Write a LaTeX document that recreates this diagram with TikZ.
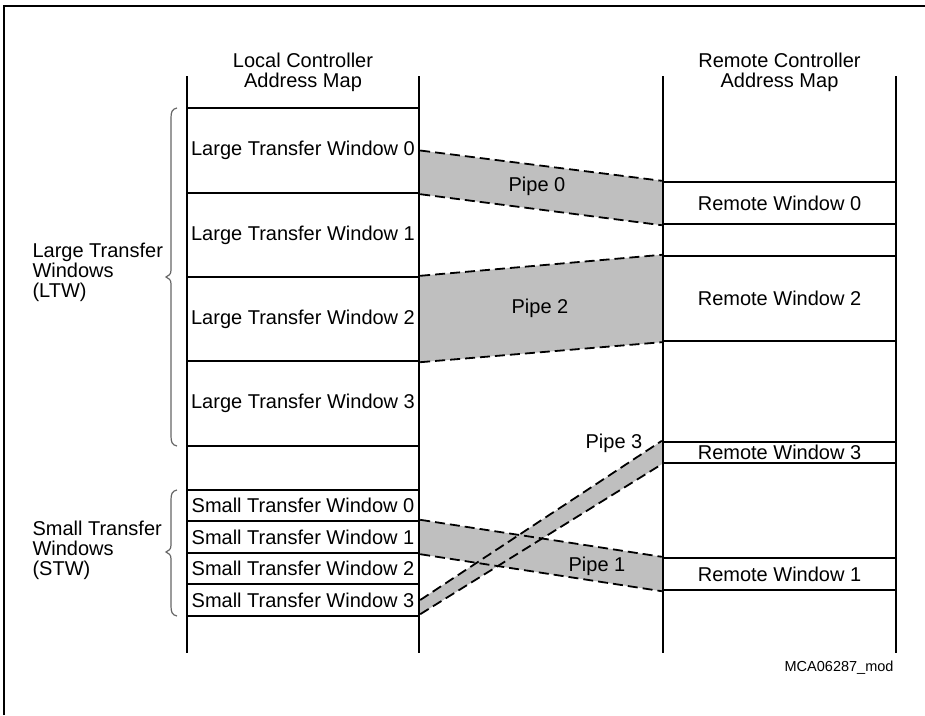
\documentclass[tikz,border=0pt]{standalone}
\usepackage{fontspec}
\setmainfont{Liberation Sans}
\usetikzlibrary{backgrounds,calc}
\begin{document}
\begin{tikzpicture}[x=1pt,y=-1pt,
  every node/.style={font=\fontsize{20}{20}\selectfont},
  win/.style={draw, line width=2.4pt, inner sep=0pt, minimum width=232pt},
  col/.style={line width=2.6pt},
  pipeedge/.style={line width=1.8pt, dash pattern=on 10pt off 5pt},
  pipefill/.style={fill=black!25, draw=none},
  brace/.style={draw=black!60, line width=1.2pt},
  lbl/.style={align=left, anchor=west}]
\useasboundingbox (0,0) rectangle (925,715);
\draw[line width=2pt] (4,715) -- (4,6) -- (925,6);
% headers
\node[align=center] (lhead) at (303,72) {Local Controller\\Address Map};
\node[align=center] (rhead) at (779.5,72) {Remote Controller\\Address Map};
% column lines
\coordinate (lt1) at (187,76); \coordinate (lb1) at (187,653);
\coordinate (lt2) at (419,76); \coordinate (lb2) at (419,653);
\coordinate (rt1) at (663,76); \coordinate (rb1) at (663,653);
\coordinate (rt2) at (896,76); \coordinate (rb2) at (896,653);
\draw[col] (lt1) -- (lb1); \draw[col] (lt2) -- (lb2);
\draw[col] (rt1) -- (rb1); \draw[col] (rt2) -- (rb2);
% local windows
\node[win, minimum height=85pt] (ltw0) at (303,150.5) {Large Transfer Window 0};
\node[win, minimum height=84pt] (ltw1) at (303,235) {Large Transfer Window 1};
\node[win, minimum height=84pt] (ltw2) at (303,319) {Large Transfer Window 2};
\node[win, minimum height=85pt] (ltw3) at (303,403.5) {Large Transfer Window 3};
\node[win, minimum height=31pt] (stw0) at (303,505.5) {Small Transfer Window 0};
\node[win, minimum height=32pt] (stw1) at (303,537) {Small Transfer Window 1};
\node[win, minimum height=31pt] (stw2) at (303,568.5) {Small Transfer Window 2};
\node[win, minimum height=32pt] (stw3) at (303,600) {Small Transfer Window 3};
% remote windows
\node[win, minimum width=233pt, minimum height=42pt] (rw0) at (779.5,203) {Remote Window 0};
\node[win, minimum width=233pt, minimum height=85pt] (rw2) at (779.5,298.5) {Remote Window 2};
\node[win, minimum width=233pt, minimum height=21pt] (rw3) at (779.5,452.5) {Remote Window 3};
\node[win, minimum width=233pt, minimum height=32pt] (rw1) at (779.5,574) {Remote Window 1};
% pipe end points
\coordinate (p3s) at ($(stw3.south east)+(0,-3)$);
% pipe fills
\begin{scope}[on background layer]
\fill[pipefill] (ltw0.east) -- (rw0.north west) -- (rw0.south west) -- (ltw0.south east) -- cycle;
\fill[pipefill] (ltw2.north east) -- (rw2.north west) -- (rw2.south west) -- (ltw2.south east) -- cycle;
\fill[pipefill] (stw1.north east) -- (rw1.north west) -- (rw1.south west) -- (stw1.south east) -- cycle;
\fill[pipefill] (stw3.east) -- (rw3.north west) -- (rw3.south west) -- (p3s) -- cycle;
\end{scope}
% pipe edges
\draw[pipeedge] (ltw0.east) -- (rw0.north west);
\draw[pipeedge] (ltw0.south east) -- (rw0.south west);
\draw[pipeedge] (ltw2.north east) -- (rw2.north west);
\draw[pipeedge] (ltw2.south east) -- (rw2.south west);
\draw[pipeedge] (stw1.north east) -- (rw1.north west);
\draw[pipeedge] (stw1.south east) -- (rw1.south west);
\draw[pipeedge] (stw3.east) -- (rw3.north west);
\draw[pipeedge] (p3s) -- (rw3.south west);
% pipe labels
\node (pl0) at (537,186) {Pipe 0};
\node (pl2) at (540,308) {Pipe 2};
\node (pl1) at (597,566) {Pipe 1};
\node (pl3) at (614,443) {Pipe 3};
% braces
\draw[brace] (177,108) .. controls (172,109) and (171,112) .. (171,118) -- (171,270)
  .. controls (171,274) and (169,276) .. (166,277) .. controls (169,278) and (171,280) .. (171,284)
  -- (171,436) .. controls (171,442) and (172,445) .. (177,446);
\draw[brace] (177,490) .. controls (172,491) and (171,494) .. (171,500) -- (171,545)
  .. controls (171,549) and (169,551) .. (166,552) .. controls (169,553) and (171,555) .. (171,559)
  -- (171,606) .. controls (171,612) and (172,615) .. (177,616);
\node[lbl] (ltwl) at (29,272) {Large Transfer\\Windows\\(LTW)};
\node[lbl] (stwl) at (29,550) {Small Transfer\\Windows\\(STW)};
\node[anchor=east, font=\fontsize{14.5}{16}\selectfont] (mca) at (897,668) {MCA06287\_mod};
\end{tikzpicture}
\end{document}
